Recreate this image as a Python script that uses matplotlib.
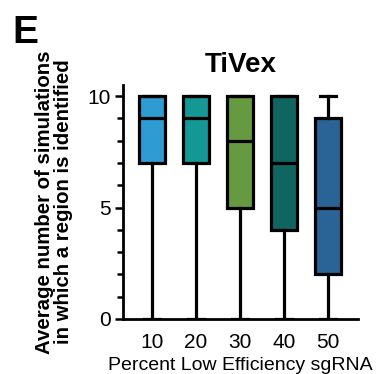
import matplotlib
matplotlib.use("Agg")
import matplotlib.pyplot as plt
from matplotlib.ticker import MultipleLocator

plt.rcParams['font.family'] = ['Liberation Sans', 'DejaVu Sans']

# data
categories = ['10', '20', '30', '40', '50']
whislo = [0, 0, 0, 0, 0]
q1 = [7, 7, 5, 4, 2]
med = [9, 9, 8, 7, 5]
q3 = [10, 10, 10, 10, 9]
whishi = [10, 10, 10, 10, 10]
colors = ['#2e9bd2', '#149895', '#669a40', '#106561', '#2a6497']

stats = []
for i, c in enumerate(categories):
    stats.append(dict(label=c, whislo=whislo[i], q1=q1[i], med=med[i],
                      q3=q3[i], whishi=whishi[i], fliers=[]))

fig = plt.figure(figsize=(3.77, 3.74), dpi=100)
ax = fig.add_axes([123 / 377, 1 - 319 / 374, 235 / 377, 234 / 374])

lw = 2.3
bp = ax.bxp(stats, positions=range(1, 6), widths=0.6, patch_artist=True,
            showfliers=False,
            boxprops=dict(linewidth=lw, edgecolor='black'),
            medianprops=dict(linewidth=lw, color='black'),
            whiskerprops=dict(linewidth=lw, color='black'),
            capprops=dict(linewidth=lw, color='black'),
            capwidths=0.38)
for patch, col in zip(bp['boxes'], colors):
    patch.set_facecolor(col)

ax.set_xlim(0.34, 5.68)
ax.set_ylim(0, 10.5)
ax.set_yticks([0, 5, 10])
ax.yaxis.set_minor_locator(MultipleLocator(1))
ax.tick_params(axis='y', which='major', length=6, width=1.8, labelsize=15, pad=3)
ax.tick_params(axis='y', which='minor', length=4, width=1.8)
ax.tick_params(axis='x', length=0, labelsize=15, pad=10)
ax.set_xticklabels(categories)

for s in ['top', 'right']:
    ax.spines[s].set_visible(False)
for s in ['left', 'bottom']:
    ax.spines[s].set_linewidth(2)

ax.set_title('TiVex', fontsize=20, fontweight='bold', pad=9)
ax.set_xlabel('Percent Low Efficiency sgRNA', fontsize=14, labelpad=4)
ax.set_ylabel('Average number of simulations\nin which a region is identified',
              fontsize=14.7, fontweight='bold', linespacing=1.0, labelpad=10)

fig.text(12 / 377, 1 - 43 / 374, 'E', fontsize=28, fontweight='bold')

fig.savefig('out.png', dpi=100)
